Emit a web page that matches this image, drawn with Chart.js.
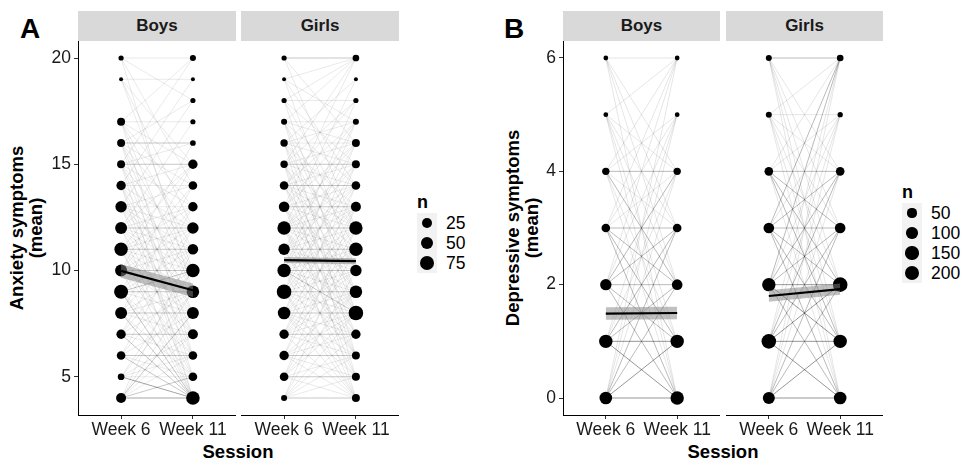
<!DOCTYPE html>
<html>
<head>
<meta charset="utf-8">
<script src="https://cdn.jsdelivr.net/npm/chart.js@4.4.0/dist/chart.umd.min.js"></script>
<style>
  body { margin: 0; background: #fff; width: 964px; height: 465px; overflow: hidden; position: relative;
         font-family: 'Liberation Sans', Arial, sans-serif; color: #1a1a1a; }
  canvas { position: absolute; }
  .tag { position: absolute; font-size: 28px; font-weight: bold; line-height: 28px; color: #000; }
  .strip { position: absolute; top: 11px; height: 30px; background: #d9d9d9; font-weight: bold;
           font-size: 17px; line-height: 30px; text-align: center; color: #1a1a1a; }
  .ytitle { position: absolute; width: 300px; height: 38px; font-size: 18.5px; font-weight: bold;
            line-height: 19px; text-align: center; transform: rotate(-90deg); color: #000; }
  .xtitle { position: absolute; top: 441px; width: 200px; font-size: 18.5px; font-weight: bold;
            line-height: 22px; text-align: center; color: #000; }
  .ltitle { position: absolute; font-size: 18px; font-weight: bold; line-height: 20px; color: #000; }
  .lkey { position: absolute; width: 20px; background: #f2f2f2; }
  .ldot { position: absolute; background: #000; border-radius: 50%; }
  .llab { position: absolute; font-size: 17.5px; line-height: 20px; color: #000; }
</style>
</head>
<body>

<div class="tag" style="left:20px;top:15px">A</div>
<div class="tag" style="left:504px;top:15px">B</div>

<div class="strip" style="left:78px;width:158px">Boys</div>
<div class="strip" style="left:241px;width:158px">Girls</div>
<div class="strip" style="left:563px;width:157px">Boys</div>
<div class="strip" style="left:726px;width:157px">Girls</div>

<div class="ytitle" style="left:-124px;top:209px">Anxiety symptoms<br>(mean)</div>
<div class="ytitle" style="left:372px;top:209px">Depressive symptoms<br>(mean)</div>

<div class="xtitle" style="left:138px">Session</div>
<div class="xtitle" style="left:623px">Session</div>

<canvas id="anxBoys" width="206" height="404" style="left:30px;top:41px"></canvas>
<canvas id="anxGirls" width="158" height="404" style="left:241px;top:41px"></canvas>
<canvas id="depBoys" width="205" height="404" style="left:515px;top:41px"></canvas>
<canvas id="depGirls" width="157" height="404" style="left:726px;top:41px"></canvas>

<div id="legends"></div>

<script>
const sessionLabels = ["Week 6", "Week 11"];

// Panel A: anxiety symptoms, number of children at each score
const anxValues = [4, 5, 6, 7, 8, 9, 10, 11, 12, 13, 14, 15, 16, 17, 18, 19, 20];
const anxTicks = [5, 10, 15, 20];
const anxBoysW6 = [26, 6, 16, 21, 45, 70, 45, 62, 45, 39, 21, 12, 12, 12, 0, 1, 2];
const anxBoysW11 = [65, 16, 16, 26, 45, 52, 62, 31, 39, 21, 16, 21, 3, 2, 2, 1, 4];
const anxGirlsW6 = [4, 16, 21, 21, 52, 79, 62, 39, 62, 31, 16, 9, 9, 4, 2, 1, 2];
const anxGirlsW11 = [12, 12, 12, 21, 79, 52, 39, 62, 62, 26, 16, 12, 12, 4, 2, 1, 6];
const anxBoysMean = [9.98, 9.07];
const anxBoysSE = [0.32, 0.32];
const anxGirlsMean = [10.49, 10.44];
const anxGirlsSE = [0.14, 0.14];
const anxLegendN = [25, 50, 75];

// [week 6 score, week 11 score, weight]
const anxBoysLinks = [
  [4,4,3],[4,5,2],[4,6,1],[4,7,1],[4,8,2],[4,9,1],[4,11,1],
  [5,4,3],[5,5,1],[5,6,1],[5,7,1],[5,9,1],[5,10,1],
  [6,4,2],[6,5,1],[6,6,2],[6,8,1],[6,10,1],[6,12,1],
  [7,4,2],[7,6,1],[7,7,2],[7,9,1],[7,11,1],[7,13,1],
  [8,4,2],[8,5,1],[8,7,1],[8,8,2],[8,9,1],[8,10,1],[8,12,1],[8,14,1],
  [9,4,2],[9,5,1],[9,6,1],[9,8,1],[9,9,2],[9,10,2],[9,11,1],[9,13,1],[9,15,1],
  [10,4,1],[10,6,1],[10,7,1],[10,8,1],[10,9,1],[10,10,2],[10,11,1],[10,12,1],[10,14,1],[10,16,1],
  [11,4,1],[11,5,1],[11,7,1],[11,8,1],[11,9,1],[11,10,1],[11,11,2],[11,12,1],[11,13,1],[11,15,1],
  [12,4,1],[12,6,1],[12,8,1],[12,9,1],[12,10,1],[12,11,1],[12,12,2],[12,13,1],[12,15,1],[12,17,1],
  [13,5,1],[13,7,1],[13,9,1],[13,10,1],[13,11,1],[13,12,1],[13,13,1],[13,14,1],[13,18,1],
  [14,4,1],[14,6,1],[14,8,1],[14,10,1],[14,12,1],[14,14,1],[14,15,1],[14,19,1],
  [15,4,1],[15,7,1],[15,9,1],[15,11,1],[15,13,1],[15,15,2],[15,16,1],[15,20,1],
  [16,5,1],[16,8,1],[16,10,1],[16,12,1],[16,14,1],[16,16,2],[16,18,1],
  [17,6,1],[17,9,1],[17,11,1],[17,13,1],[17,15,1],[17,17,1],[17,20,1],
  [19,10,1],[19,12,1],[19,15,1],[19,19,1],
  [20,9,1],[20,14,1],[20,18,1],[20,20,1]
];
const anxGirlsLinks = [
  [4,4,2],[4,5,1],[4,6,1],[4,7,1],[4,8,1],[4,10,1],[4,12,1],
  [5,4,1],[5,5,2],[5,6,1],[5,8,1],[5,9,1],[5,11,1],[5,13,1],
  [6,4,1],[6,5,1],[6,6,2],[6,7,1],[6,8,1],[6,9,1],[6,12,1],[6,14,1],
  [7,4,1],[7,6,1],[7,7,2],[7,8,1],[7,9,1],[7,10,1],[7,11,1],[7,13,1],[7,15,1],
  [8,4,1],[8,5,1],[8,6,1],[8,7,1],[8,8,2],[8,9,1],[8,10,1],[8,11,1],[8,12,1],[8,14,1],[8,16,1],
  [9,4,1],[9,5,1],[9,7,1],[9,8,1],[9,9,2],[9,10,1],[9,11,1],[9,12,1],[9,13,1],[9,15,1],[9,17,1],
  [10,4,1],[10,6,1],[10,7,1],[10,8,2],[10,9,1],[10,10,2],[10,11,1],[10,12,1],[10,13,1],[10,14,1],[10,16,1],[10,18,1],
  [11,5,1],[11,6,1],[11,8,1],[11,9,1],[11,10,1],[11,11,2],[11,12,1],[11,13,1],[11,14,1],[11,15,1],[11,17,1],
  [12,4,1],[12,6,1],[12,7,1],[12,8,1],[12,10,1],[12,11,1],[12,12,2],[12,13,1],[12,14,1],[12,15,1],[12,16,1],[12,19,1],
  [13,5,1],[13,7,1],[13,8,1],[13,9,1],[13,10,1],[13,12,1],[13,13,2],[13,14,1],[13,16,1],[13,17,1],[13,20,1],
  [14,6,1],[14,8,1],[14,9,1],[14,11,1],[14,12,1],[14,13,1],[14,14,2],[14,15,1],[14,17,1],[14,18,1],
  [15,4,1],[15,7,1],[15,9,1],[15,10,1],[15,12,1],[15,14,1],[15,15,2],[15,16,1],[15,18,1],[15,20,1],
  [16,5,1],[16,8,1],[16,10,1],[16,12,1],[16,13,1],[16,15,1],[16,16,1],[16,17,1],[16,19,1],
  [17,6,1],[17,9,1],[17,11,1],[17,14,1],[17,16,1],[17,17,1],[17,20,1],
  [18,8,1],[18,12,1],[18,15,1],[18,18,1],[18,20,1],
  [19,10,1],[19,14,1],[19,17,1],[19,20,1],
  [20,12,1],[20,16,1],[20,20,2]
];

// Panel B: depressive symptoms
const depValues = [0, 1, 2, 3, 4, 5, 6];
const depTicks = [0, 2, 4, 6];
const depBoysW6 = [133, 158, 99, 41, 24, 5, 5];
const depBoysW11 = [158, 158, 80, 41, 24, 5, 5];
const depGirlsW6 = [116, 200, 158, 80, 41, 11, 11];
const depGirlsW11 = [133, 158, 200, 80, 41, 7, 16];
const depBoysMean = [1.49, 1.5];
const depBoysSE = [0.11, 0.11];
const depGirlsMean = [1.8, 1.92];
const depGirlsSE = [0.1, 0.1];
const depLegendN = [50, 100, 150, 200];

const depBoysLinks = [
  [0,0,3],[0,1,3],[0,2,2],[0,3,2],[0,4,1],[0,5,1],[0,6,1],
  [1,0,3],[1,1,3],[1,2,2],[1,3,2],[1,4,1],[1,5,1],
  [2,0,2],[2,1,2],[2,2,2],[2,3,2],[2,4,2],[2,5,1],[2,6,1],
  [3,0,2],[3,1,2],[3,2,2],[3,3,2],[3,4,1],[3,5,1],[3,6,1],
  [4,0,1],[4,1,1],[4,2,2],[4,3,1],[4,4,2],[4,5,1],[4,6,1],
  [5,0,1],[5,1,1],[5,2,1],[5,3,1],[5,4,1],[5,6,1],
  [6,0,1],[6,2,1],[6,3,1],[6,4,1],[6,6,1]
];
const depGirlsLinks = [
  [0,0,3],[0,1,3],[0,2,2],[0,3,2],[0,4,1],[0,5,1],[0,6,1],
  [1,0,3],[1,1,3],[1,2,3],[1,3,2],[1,4,2],[1,5,1],[1,6,1],
  [2,0,2],[2,1,3],[2,2,3],[2,3,2],[2,4,2],[2,5,1],[2,6,2],
  [3,0,2],[3,1,2],[3,2,2],[3,3,2],[3,4,2],[3,5,1],[3,6,2],
  [4,0,1],[4,1,2],[4,2,2],[4,3,2],[4,4,2],[4,5,1],[4,6,1],
  [5,0,1],[5,1,1],[5,2,1],[5,3,1],[5,4,1],[5,5,1],[5,6,1],
  [6,0,1],[6,1,1],[6,2,1],[6,3,1],[6,4,1],[6,6,2]
];

Chart.defaults.font.family = "'Liberation Sans', Arial, sans-serif";

// area-scaled point size, like ggplot's scale_size
function dotRadius(n, nMin, nMax) {
  return 2 + 5.5 * Math.sqrt(Math.max(n - nMin, 0) / (nMax - nMin));
}

function facetChart(id, p) {
  const pts = [];
  const radii = [];
  [p.w6, p.w11].forEach((counts, s) => {
    p.values.forEach((v, i) => {
      if (counts[i] > 0) {
        pts.push({ x: s + 1, y: v });
        radii.push(dotRadius(counts[i], p.nMin, p.nMax));
      }
    });
  });

  const datasets = [
    { type: 'line', data: [{ x: 1, y: p.mean[0] }, { x: 2, y: p.mean[1] }],
      borderColor: '#000', borderWidth: 2.2, pointRadius: 0, fill: false, order: 0 },
    { type: 'line', data: [{ x: 1, y: p.mean[0] - p.se[0] }, { x: 2, y: p.mean[1] - p.se[1] }],
      borderWidth: 0, pointRadius: 0, fill: false, order: 1 },
    { type: 'line', data: [{ x: 1, y: p.mean[0] + p.se[0] }, { x: 2, y: p.mean[1] + p.se[1] }],
      borderWidth: 0, pointRadius: 0, fill: '-1', backgroundColor: 'rgba(130,130,130,0.5)', order: 1 },
    { type: 'scatter', data: pts, pointRadius: radii, pointHoverRadius: radii,
      backgroundColor: '#000', borderWidth: 0, order: 2 }
  ];
  p.links.forEach(([a, b, w]) => {
    datasets.push({
      type: 'line', data: [{ x: 1, y: a }, { x: 2, y: b }],
      borderColor: 'rgba(0,0,0,' + p.alpha[w] + ')', borderWidth: 0.8,
      pointRadius: 0, fill: false, order: 3
    });
  });

  new Chart(document.getElementById(id), {
    type: 'scatter',
    data: { datasets: datasets },
    options: {
      responsive: false,
      animation: false,
      events: [],
      layout: { padding: 0, autoPadding: false },
      plugins: { legend: { display: false }, tooltip: { enabled: false } },
      scales: {
        x: {
          type: 'linear', min: 0.4, max: 2.6,
          afterBuildTicks: s => { s.ticks = [{ value: 1 }, { value: 2 }]; },
          afterFit: s => { s.height = 30; s.paddingLeft = 0; s.paddingRight = 0; },
          ticks: { callback: v => sessionLabels[v - 1], autoSkip: false, maxRotation: 0,
                   font: { size: 17.5 }, color: '#1a1a1a', padding: 1 },
          grid: { display: true, drawOnChartArea: false, drawTicks: true, tickLength: 4, color: '#333' },
          border: { display: true, color: '#000', width: 1 }
        },
        y: {
          type: 'linear', min: p.min, max: p.max, display: p.showY,
          afterBuildTicks: s => { s.ticks = p.ticks.map(v => ({ value: v })); },
          afterFit: s => { s.width = p.showY ? 48 : 0; s.paddingTop = 0; s.paddingBottom = 0; },
          ticks: { font: { size: 17.5 }, color: '#1a1a1a', padding: 3 },
          grid: { display: true, drawOnChartArea: false, drawTicks: true, tickLength: 4, color: '#333' },
          border: { display: true, color: '#000', width: 1 }
        }
      }
    }
  });
}

const anxAlpha = [0, 0.11, 0.28, 0.45];
const depAlpha = [0, 0.13, 0.34, 0.52];

facetChart('anxBoys', { values: anxValues, w6: anxBoysW6, w11: anxBoysW11, mean: anxBoysMean, se: anxBoysSE,
  links: anxBoysLinks, alpha: anxAlpha, nMin: 1, nMax: 85, min: 3.2, max: 20.8, ticks: anxTicks, showY: true });
facetChart('anxGirls', { values: anxValues, w6: anxGirlsW6, w11: anxGirlsW11, mean: anxGirlsMean, se: anxGirlsSE,
  links: anxGirlsLinks, alpha: anxAlpha, nMin: 1, nMax: 85, min: 3.2, max: 20.8, ticks: anxTicks, showY: false });
facetChart('depBoys', { values: depValues, w6: depBoysW6, w11: depBoysW11, mean: depBoysMean, se: depBoysSE,
  links: depBoysLinks, alpha: depAlpha, nMin: 4, nMax: 215, min: -0.3, max: 6.3, ticks: depTicks, showY: true });
facetChart('depGirls', { values: depValues, w6: depGirlsW6, w11: depGirlsW11, mean: depGirlsMean, se: depGirlsSE,
  links: depGirlsLinks, alpha: depAlpha, nMin: 4, nMax: 215, min: -0.3, max: 6.3, ticks: depTicks, showY: false });

// size legends
function sizeLegend(left, top, ns, nMin, nMax) {
  const box = document.getElementById('legends');
  let html = '<div class="ltitle" style="left:' + left + 'px;top:' + (top - 31) + 'px">n</div>';
  html += '<div class="lkey" style="left:' + left + 'px;top:' + (top - 10) + 'px;height:' + (ns.length * 20) + 'px"></div>';
  ns.forEach((n, i) => {
    const r = dotRadius(n, nMin, nMax);
    const cy = top + i * 20;
    html += '<div class="ldot" style="left:' + (left + 10 - r) + 'px;top:' + (cy - r) + 'px;width:' + (2 * r) + 'px;height:' + (2 * r) + 'px"></div>';
    html += '<div class="llab" style="left:' + (left + 29) + 'px;top:' + (cy - 10) + 'px">' + n + '</div>';
  });
  box.insertAdjacentHTML('beforeend', html);
}
sizeLegend(417, 223, anxLegendN, 1, 85);
sizeLegend(902, 213, depLegendN, 4, 215);
</script>
</body>
</html>
